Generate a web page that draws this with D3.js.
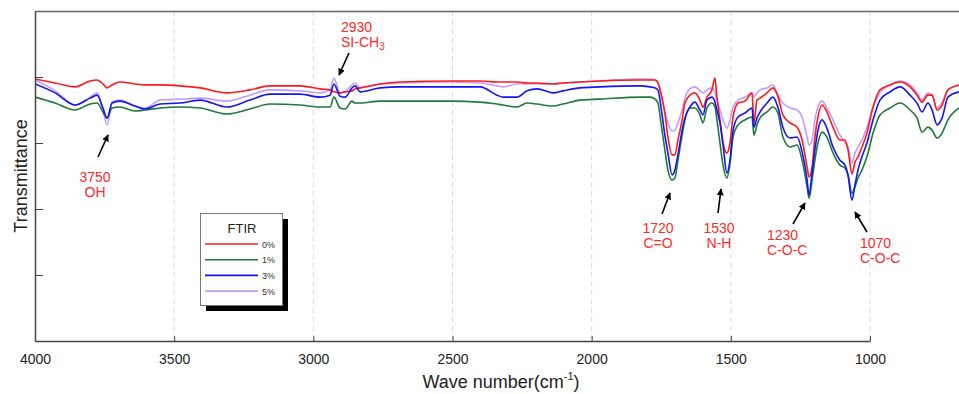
<!DOCTYPE html>
<html>
<head>
<meta charset="utf-8">
<script src="https://cdn.jsdelivr.net/npm/d3@7"></script>
<style>
  body { margin: 0; background: #fff; }
  svg { display: block; font-family: Arial, "Liberation Sans", sans-serif; }
  .grid line { stroke: #d9d9d9; stroke-dasharray: 5,4; }
  .axis path, .axis line { stroke: #444; }
  .axis text { fill: #222; font-size: 14px; }
  .peak text { fill: #ff2a2a; font-size: 14px; }
</style>
</head>
<body>
<svg id="chart" width="959" height="394"></svg>
<script>
// wave numbers (cm-1) shared by all spectra
const waveNumber = [4000, 3928, 3856, 3802, 3777, 3756, 3741, 3723, 3695, 3641, 3605, 3551, 3479, 3407,
  3310, 3228, 3156, 3048, 2976, 2940, 2926, 2904, 2886, 2861, 2850, 2832, 2760, 2689,
  2509, 2401, 2340, 2319, 2268, 2232, 2196, 2139, 2103, 2042, 1971,
  1826, 1790, 1772, 1762, 1751, 1737, 1726, 1711, 1701, 1690,
  1675, 1665, 1647, 1629, 1611, 1600, 1586, 1568, 1557, 1550,
  1539, 1528, 1514, 1503, 1492, 1474, 1449, 1424, 1417, 1406,
  1395, 1370, 1349, 1331, 1313, 1287, 1262, 1244, 1226, 1219,
  1208, 1198, 1187, 1172, 1155, 1133, 1108, 1090, 1079, 1065,
  1054, 1043, 1029, 1011, 989, 964, 928, 892, 856, 831,
  813, 792, 777, 759, 741, 720, 680];

// transmittance (%) per sample
const t0 = [79.4, 78.2, 77.0, 78.8, 79.1, 77.9, 76.7, 77.6, 78.5, 77.9, 77.6, 77.6, 77.3, 76.7,
  75.2, 76.1, 77.3, 77.3, 76.4, 76.1, 75.5, 75.2, 75.5, 75.8, 76.4, 76.7, 77.9, 78.5,
  78.8, 78.8, 78.5, 78.5, 78.5, 78.2, 78.2, 77.9, 78.2, 78.5, 78.8,
  79.1, 79.1, 79.1, 78.2, 75.2, 69.1, 61.8, 56.4, 56.4, 60.9,
  67.0, 72.1, 74.5, 75.2, 73.0, 70.9, 73.9, 76.1, 79.7, 73.9,
  67.0, 60.0, 57.0, 60.0, 67.9, 72.1, 72.7, 75.2, 66.1, 73.0,
  73.6, 75.2, 76.7, 74.2, 68.5, 66.1, 64.8, 60.9, 52.7, 49.7,
  52.7, 61.8, 67.9, 71.5, 69.4, 64.8, 60.9, 60.9, 57.9, 50.6,
  54.2, 55.8, 58.8, 63.0, 70.9, 76.1, 77.6, 78.5, 77.0, 74.5,
  72.4, 74.5, 74.5, 70.0, 71.5, 76.1, 77.6];
const t1 = [73.9, 72.1, 70.0, 71.8, 72.1, 69.4, 67.6, 70.6, 70.9, 69.7, 70.0, 70.6, 70.9, 70.6,
  68.8, 70.3, 71.8, 71.5, 70.9, 70.9, 73.9, 70.6, 70.3, 72.7, 72.1, 72.1, 72.7, 72.7,
  72.7, 72.4, 71.8, 71.5, 70.9, 72.1, 71.8, 71.2, 71.8, 73.0, 73.3,
  73.9, 73.9, 73.3, 72.1, 66.1, 57.9, 51.8, 48.8, 49.4, 54.8,
  62.4, 67.0, 70.6, 70.6, 68.5, 66.1, 70.6, 72.1, 70.9, 67.0,
  60.0, 53.3, 49.4, 53.9, 61.8, 65.5, 67.0, 67.9, 62.4, 65.5,
  67.6, 69.4, 70.9, 69.1, 61.8, 58.8, 59.4, 54.8, 46.7, 43.3,
  48.8, 54.8, 60.0, 63.3, 61.8, 57.0, 53.3, 52.4, 50.3, 44.8,
  46.7, 49.4, 51.8, 55.8, 63.0, 68.5, 70.6, 72.1, 70.0, 67.6,
  63.3, 64.8, 63.9, 61.5, 63.0, 67.0, 70.6];
const t3 = [77.9, 75.2, 71.5, 73.6, 74.5, 70.6, 67.6, 72.1, 72.7, 71.2, 70.3, 71.8, 72.1, 73.0,
  70.9, 73.0, 74.8, 74.8, 73.9, 74.5, 77.9, 74.2, 73.9, 76.7, 77.3, 75.5, 76.7, 77.0,
  77.0, 77.0, 74.5, 73.9, 73.9, 75.8, 76.4, 75.2, 75.8, 76.7, 77.0,
  77.3, 77.0, 76.7, 76.1, 70.9, 62.4, 57.0, 50.3, 51.8, 56.4,
  63.9, 67.6, 70.9, 72.4, 70.0, 68.5, 73.0, 73.9, 72.4, 70.0,
  66.1, 59.4, 50.9, 54.8, 63.9, 67.9, 69.1, 70.6, 64.8, 67.6,
  69.4, 72.1, 73.9, 70.9, 64.8, 61.5, 61.8, 57.3, 48.8, 44.2,
  51.2, 57.9, 63.9, 67.0, 64.5, 58.8, 54.8, 53.3, 50.3, 42.7,
  47.3, 51.8, 55.8, 60.0, 67.0, 73.0, 75.5, 77.0, 74.5, 72.1,
  69.4, 72.1, 70.0, 65.5, 67.6, 73.9, 75.5];
const t5 = [79.1, 75.8, 71.5, 73.9, 75.2, 70.0, 65.5, 72.4, 73.0, 71.2, 70.6, 73.0, 73.3, 73.6,
  72.7, 74.5, 76.1, 75.8, 75.2, 76.1, 79.7, 75.2, 75.5, 77.6, 78.2, 76.7, 77.9, 78.2,
  78.5, 78.2, 77.3, 77.0, 77.9, 77.9, 77.9, 77.9, 78.2, 78.5, 78.8,
  79.4, 79.4, 79.1, 78.5, 74.5, 69.4, 66.1, 63.6, 63.9, 66.1,
  70.0, 73.6, 76.4, 77.0, 75.8, 75.2, 76.1, 76.7, 75.2, 73.0,
  70.0, 67.0, 64.5, 67.0, 70.9, 73.0, 73.9, 75.2, 73.9, 75.2,
  76.1, 76.7, 77.6, 74.5, 72.1, 70.6, 70.0, 67.9, 61.8, 59.4,
  60.9, 67.0, 70.9, 72.7, 70.6, 67.0, 62.4, 60.0, 58.8, 53.9,
  57.0, 58.8, 60.9, 64.8, 70.9, 75.2, 77.6, 78.8, 77.6, 75.2,
  73.0, 75.2, 74.5, 70.6, 72.4, 76.1, 77.6];

const seriesNames = ["0%", "1%", "3%", "5%"];
const seriesValues = [t0, t1, t3, t5];
const seriesColors = ["#ff1a1a", "#1e7a3c", "#1414f5", "#c49cff"];

const xTicks = [4000, 3500, 3000, 2500, 2000, 1500, 1000];
const yTicks = [20, 40, 60, 80];

// peak labels
const peaks = [
  { wn: 3750, top: "3750", bottom: "OH" },
  { wn: 2930, top: "2930", bottom: "SI-CH", sub: "3" },
  { wn: 1720, top: "1720", bottom: "C=O" },
  { wn: 1530, top: "1530", bottom: "N-H" },
  { wn: 1230, top: "1230", bottom: "C-O-C" },
  { wn: 1070, top: "1070", bottom: "C-O-C" }
];

const svg = d3.select("#chart");
const margin = {top: 11, left: 35, bottom: 53};
const height = +svg.attr("height") - margin.top - margin.bottom;
const plotRight = +svg.attr("width");

const x = d3.scaleLinear().domain([4000, 1000]).range([margin.left, 870]);
const y = d3.scaleLinear().domain([0, 100]).range([margin.top + height, margin.top]);

const defs = svg.append("defs");
defs.append("clipPath").attr("id", "plotClip")
  .append("rect").attr("x", margin.left).attr("y", margin.top)
  .attr("width", plotRight - margin.left).attr("height", height);

defs.append("marker")
  .attr("id", "arrow").attr("viewBox", "0 0 10 10")
  .attr("refX", 9).attr("refY", 5)
  .attr("markerWidth", 7).attr("markerHeight", 7)
  .attr("markerUnits", "userSpaceOnUse")
  .attr("orient", "auto")
  .append("path").attr("d", "M0,0L10,5L0,10z").attr("fill", "#000");

// dashed vertical grid
svg.append("g").attr("class", "grid")
  .selectAll("line").data(xTicks.slice(1)).enter().append("line")
  .attr("x1", d => x(d)).attr("x2", d => x(d))
  .attr("y1", margin.top).attr("y2", margin.top + height);

// frame top
svg.append("line")
  .attr("x1", margin.left).attr("x2", plotRight)
  .attr("y1", margin.top + 0.5).attr("y2", margin.top + 0.5)
  .attr("stroke", "#666").attr("stroke-width", 1.5);

// spectra
const line = d3.line()
  .x((d, i) => x(waveNumber[i]))
  .y(d => y(d))
  .curve(d3.curveMonotoneX);

const drawOrder = [3, 0, 1, 2];
svg.append("g").attr("clip-path", "url(#plotClip)")
  .selectAll("path").data(drawOrder).enter().append("path")
  .attr("fill", "none")
  .attr("stroke", i => seriesColors[i])
  .attr("stroke-width", 1.6)
  .attr("stroke-linejoin", "round")
  .attr("d", i => line(seriesValues[i]));

// axes
svg.append("g").attr("class", "axis")
  .attr("transform", "translate(0," + (margin.top + height) + ")")
  .call(d3.axisBottom(x).tickValues(xTicks).tickFormat(d3.format("d"))
    .tickSizeInner(-5).tickSizeOuter(0).tickPadding(13))
  .call(g => g.select(".domain").attr("stroke-width", 1.5));

svg.append("g").attr("class", "axis")
  .attr("transform", "translate(" + margin.left + ",0)")
  .call(d3.axisLeft(y).tickValues(yTicks).tickSizeInner(-8).tickSizeOuter(0).tickFormat(""))
  .call(g => g.select(".domain").attr("stroke-width", 1.5));

// axis titles
const xTitle = svg.append("text")
  .attr("x", 501).attr("y", 388)
  .attr("text-anchor", "middle")
  .attr("font-size", 18).attr("fill", "#222")
  .text("Wave number(cm");
xTitle.append("tspan").attr("font-size", 11).attr("dy", -8).text("-1");
xTitle.append("tspan").attr("dy", 8).text(")");

svg.append("text")
  .attr("transform", "translate(27," + (margin.top + 165) + ") rotate(-90)")
  .attr("text-anchor", "middle")
  .attr("font-size", 18).attr("fill", "#222")
  .text("Transmittance");

// peak annotation layout: text anchor point and arrow tail -> head
const peakLayout = [
  { tx: 95,  ty: 182, anchor: "middle", a: [98, 157, 108, 135] },
  { tx: 341, ty: 32,  anchor: "start",  a: [349, 53, 339, 75] },
  { tx: 658, ty: 233, anchor: "middle", a: [662, 214, 670, 193] },
  { tx: 719, ty: 233, anchor: "middle", a: [718, 213, 721, 189] },
  { tx: 767, ty: 240, anchor: "start",  a: [793, 224, 805, 203] },
  { tx: 860, ty: 248, anchor: "start",  a: [867, 232, 855, 212] }
];

const pk = svg.append("g").attr("class", "peak")
  .selectAll("g").data(peaks).enter().append("g");

pk.each(function(d, i) {
  const g = d3.select(this);
  const L = peakLayout[i];
  g.append("text").attr("text-anchor", L.anchor)
    .attr("x", L.tx).attr("y", L.ty).text(d.top);
  const b = g.append("text").attr("text-anchor", L.anchor)
    .attr("x", L.tx).attr("y", L.ty + 15).text(d.bottom);
  if (d.sub) {
    b.append("tspan").attr("font-size", 10).attr("dy", 3).text(d.sub);
  }
  g.append("line")
    .attr("x1", L.a[0]).attr("y1", L.a[1])
    .attr("x2", L.a[2]).attr("y2", L.a[3])
    .attr("stroke", "#000").attr("stroke-width", 1.6)
    .attr("marker-end", "url(#arrow)");
});

// legend
const lg = svg.append("g").attr("transform", "translate(200,213)");
lg.append("rect").attr("x", 6).attr("y", 6).attr("width", 82).attr("height", 92).attr("fill", "#000");
lg.append("rect").attr("x", 0.5).attr("y", 0.5).attr("width", 82).attr("height", 92)
  .attr("fill", "#fff").attr("stroke", "#777");
lg.append("text").attr("x", 42).attr("y", 20).attr("text-anchor", "middle")
  .attr("font-size", 13).attr("fill", "#222").text("FTIR");
const items = lg.selectAll(".item").data(seriesNames).enter().append("g")
  .attr("transform", (d, i) => "translate(0," + (31 + i * 15.7) + ")");
items.append("line").attr("x1", 5).attr("x2", 58)
  .attr("stroke", (d, i) => seriesColors[i]).attr("stroke-width", 1.6);
items.append("text").attr("x", 62).attr("y", 3.5)
  .attr("font-size", 9).attr("fill", "#333").text(d => d);
</script>
</body>
</html>
